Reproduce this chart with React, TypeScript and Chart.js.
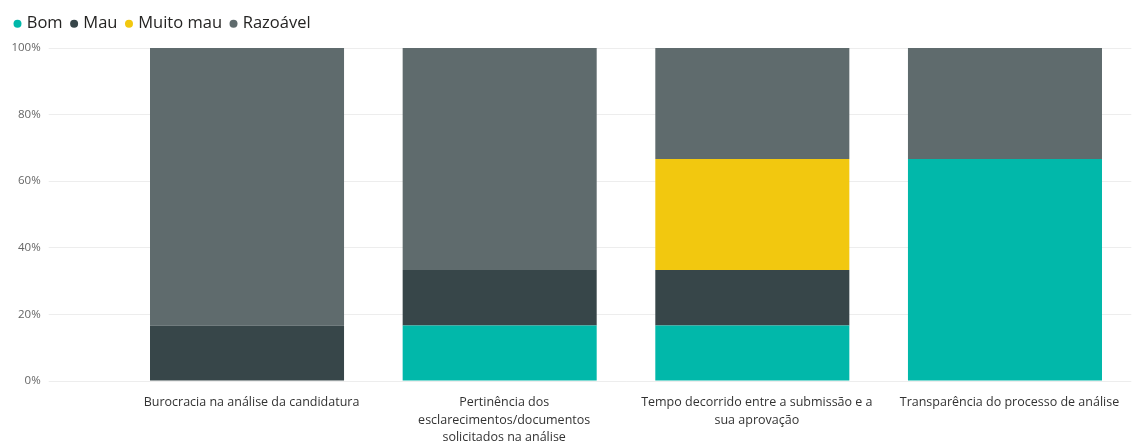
import React, { useEffect, useRef } from "react";
import { Chart, registerables } from "chart.js";

Chart.register(...registerables);

const categories: string[][] = [
  ["Burocracia na análise da candidatura"],
  ["Pertinência dos", "esclarecimentos/documentos", "solicitados na análise"],
  ["Tempo decorrido entre a submissão e a", "sua aprovação"],
  ["Transparência do processo de análise"],
];

const seriesNames = ["Bom", "Mau", "Muito mau", "Razoável"];
const seriesColors = ["#01B8AA", "#374649", "#F2C80F", "#5F6B6D"];

const bomValues = [0, 16.67, 16.67, 66.67];
const mauValues = [16.67, 16.67, 16.67, 0];
const muitoMauValues = [0, 0, 33.33, 0];
const razoavelValues = [83.33, 66.67, 33.33, 33.33];

const yTicks = [0, 20, 40, 60, 80, 100];

const FONT = "'Segoe UI', 'Open Sans', 'Noto Sans', sans-serif";
const LEGEND_EXTRA = 6;

const legendSpacer = {
  id: "legendSpacer",
  beforeLayout(chart: any) {
    const leg = chart.legend;
    if (leg && !leg._spacerPatched) {
      const orig = leg.fit.bind(leg);
      leg.fit = function () {
        orig();
        this.height += LEGEND_EXTRA;
      };
      leg._spacerPatched = true;
    }
  },
};

export default function App() {
  const canvasRef = useRef<HTMLCanvasElement | null>(null);

  useEffect(() => {
    if (!canvasRef.current) return;
    const allValues = [bomValues, mauValues, muitoMauValues, razoavelValues];
    const chart = new Chart(canvasRef.current, {
      type: "bar",
      data: {
        labels: categories,
        datasets: seriesNames.map((name, i) => ({
          label: name,
          data: allValues[i],
          backgroundColor: seriesColors[i],
          borderWidth: 0,
          categoryPercentage: 1,
          barPercentage: 0.768,
        })),
      },
      plugins: [legendSpacer],
      options: {
        animation: false,
        responsive: true,
        maintainAspectRatio: false,
        layout: { padding: { left: 6, right: 3.7, top: 5, bottom: 0 } },
        plugins: {
          tooltip: { enabled: false },
          legend: {
            position: "top",
            align: "start",
            labels: {
              usePointStyle: true,
              pointStyle: "circle",
              boxWidth: 2,
              boxHeight: 5.66,
              padding: 10.5,
              color: "#252423",
              font: { family: FONT, size: 16.5 },
            },
          },
        },
        scales: {
          x: {
            stacked: true,
            grid: { display: false, drawTicks: false },
            border: { display: false },
            ticks: {
              color: "#333333",
              padding: 13,
              labelOffset: 4.5,
              maxRotation: 0,
              autoSkip: false,
              font: { family: FONT, size: 12.5, lineHeight: 1.4 },
            },
            afterFit: (scale: any) => {
              scale.height = 62;
            },
          },
          y: {
            stacked: true,
            min: 0,
            max: 100,
            afterBuildTicks: (scale: any) => {
              scale.ticks = yTicks.map((v) => ({ value: v }));
            },
            grid: {
              color: "#EDEDED",
              lineWidth: 1,
              drawTicks: true,
              tickLength: 72,
            },
            border: { display: false },
            ticks: {
              color: "#666666",
              padding: 8,
              font: { family: FONT, size: 11.5 },
              callback: (v: any) => `${v}%`,
            },
            afterFit: (scale: any) => {
              scale.width = 114.7;
            },
          },
        },
      },
    });
    return () => chart.destroy();
  }, []);

  return (
    <div
      style={{
        position: "fixed",
        left: 0,
        top: 0,
        width: 1135,
        height: 443,
        background: "#ffffff",
      }}
    >
      <canvas ref={canvasRef} />
    </div>
  );
}
